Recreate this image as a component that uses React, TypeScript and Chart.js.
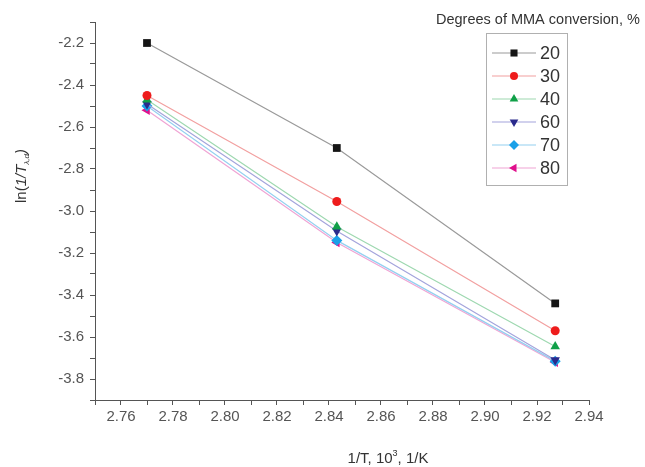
import React, { useEffect, useRef } from "react";
import { Chart, registerables } from "chart.js";

Chart.register(...registerables);

const xValues = [2.77, 2.843, 2.927];
const seriesLabels = ["20", "30", "40", "60", "70", "80"];
const series20 = [-2.2, -2.7, -3.44];
const series30 = [-2.45, -2.955, -3.57];
const series40 = [-2.47, -3.075, -3.645];
const series60 = [-2.49, -3.095, -3.71];
const series70 = [-2.5, -3.14, -3.715];
const series80 = [-2.52, -3.15, -3.72];
const allSeries = [series20, series30, series40, series60, series70, series80];

const markerColors = ["#151515", "#ee1c1c", "#10a048", "#2a2a8c", "#1aa0e8", "#e0108c"];
const lineColors = ["#9a9a9a", "#f2a0a0", "#9ed8b0", "#a4a4dc", "#94d0f0", "#f0a4d4"];
const pointStyles = ["rect", "circle", "triangle", "triangle", "rectRot", "triangle"];
const pointRotations = [0, 0, 0, 180, 0, -90];
const pointRadii = [5.5, 4.5, 5.5, 5.5, 5.5, 5.5];

const FONT = "'Liberation Sans', Arial, sans-serif";

function drawMarker(ctx: CanvasRenderingContext2D, style: string, rot: number, r: number, x: number, y: number, color: string) {
  ctx.save();
  ctx.translate(x, y);
  ctx.rotate((rot * Math.PI) / 180);
  ctx.fillStyle = color;
  ctx.beginPath();
  if (style === "rect") {
    const s = Math.SQRT1_2 * r;
    ctx.rect(-s, -s, 2 * s, 2 * s);
  } else if (style === "circle") {
    ctx.arc(0, 0, r, 0, Math.PI * 2);
  } else if (style === "rectRot") {
    ctx.moveTo(0, -r);
    ctx.lineTo(r, 0);
    ctx.lineTo(0, r);
    ctx.lineTo(-r, 0);
    ctx.closePath();
  } else {
    const a = r;
    ctx.moveTo(0, -a);
    ctx.lineTo(a * 0.866, a * 0.5);
    ctx.lineTo(-a * 0.866, a * 0.5);
    ctx.closePath();
  }
  ctx.fill();
  ctx.restore();
}

const decorPlugin = {
  id: "decor",
  afterDraw(chart: any) {
    const ctx: CanvasRenderingContext2D = chart.ctx;
    ctx.save();
    ctx.fillStyle = "#333";
    ctx.textBaseline = "alphabetic";

    // Y axis title (rotated)
    ctx.save();
    ctx.translate(26, 176);
    ctx.rotate(-Math.PI / 2);
    const segs = [
      { t: "ln(", f: `15px ${FONT}`, dy: 0 },
      { t: "1/T", f: `italic 15px ${FONT}`, dy: 0 },
      { t: "λ,d", f: `italic 8px ${FONT}`, dy: 3 },
      { t: ")", f: `italic 15px ${FONT}`, dy: 0 },
    ];
    let total = 0;
    for (const s of segs) {
      ctx.font = s.f;
      total += ctx.measureText(s.t).width;
    }
    let cx = -total / 2;
    for (const s of segs) {
      ctx.font = s.f;
      ctx.textAlign = "left";
      ctx.fillText(s.t, cx, s.dy);
      cx += ctx.measureText(s.t).width;
    }
    ctx.restore();

    // X axis title
    const xs = [
      { t: "1/T, 10", f: `15px ${FONT}`, dy: 0 },
      { t: "3", f: `9px ${FONT}`, dy: -7 },
      { t: ", 1/K", f: `15px ${FONT}`, dy: 0 },
    ];
    let tw = 0;
    for (const s of xs) {
      ctx.font = s.f;
      tw += ctx.measureText(s.t).width;
    }
    let sx = 388 - tw / 2;
    for (const s of xs) {
      ctx.font = s.f;
      ctx.textAlign = "left";
      ctx.fillText(s.t, sx, 463 + s.dy);
      sx += ctx.measureText(s.t).width;
    }

    // Legend title
    ctx.font = `14.5px ${FONT}`;
    ctx.textAlign = "left";
    ctx.fillText("Degrees of MMA conversion, %", 436, 24);

    // Legend box
    ctx.strokeStyle = "#b0b0b0";
    ctx.lineWidth = 1;
    ctx.strokeRect(486.5, 33.5, 81, 152);
    const ds = chart.data.datasets;
    for (let i = 0; i < ds.length; i++) {
      const y = 53 + i * 23;
      ctx.strokeStyle = lineColors[i];
      ctx.lineWidth = 1.2;
      ctx.beginPath();
      ctx.moveTo(492, y);
      ctx.lineTo(536, y);
      ctx.stroke();
      drawMarker(ctx, pointStyles[i], pointRotations[i], pointRadii[i] - 0.5, 514, y, markerColors[i]);
      ctx.fillStyle = "#333";
      ctx.font = `18px ${FONT}`;
      ctx.textBaseline = "middle";
      ctx.fillText(ds[i].label, 540, y + 1);
      ctx.textBaseline = "alphabetic";
    }
    ctx.restore();
  },
};

export default function App() {
  const canvasRef = useRef<HTMLCanvasElement | null>(null);

  useEffect(() => {
    if (!canvasRef.current) return;
    const datasets = allSeries.map((vals, i) => ({
      label: seriesLabels[i],
      data: vals.map((v, j) => ({ x: xValues[j], y: v })),
      borderColor: lineColors[i],
      backgroundColor: markerColors[i],
      pointBackgroundColor: markerColors[i],
      pointBorderColor: markerColors[i],
      pointBorderWidth: 0,
      pointStyle: pointStyles[i],
      rotation: pointRotations[i],
      pointRadius: pointRadii[i],
      borderWidth: 1.2,
      showLine: true,
      fill: false,
      tension: 0,
    }));

    const chart = new Chart(canvasRef.current, {
      type: "scatter",
      data: { datasets: datasets as any },
      plugins: [decorPlugin],
      options: {
        animation: false,
        responsive: false,
        layout: { padding: { top: 22, right: 56, left: 0, bottom: 0 } },
        plugins: { legend: { display: false }, tooltip: { enabled: false }, title: { display: false } },
        scales: {
          x: {
            type: "linear",
            min: 2.75,
            max: 2.94,
            afterFit: (s: any) => {
              s.height = 67;
            },
            ticks: {
              stepSize: 0.01,
              autoSkip: false,
              maxRotation: 0,
              color: "#555",
              font: { family: FONT, size: 15 },
              padding: 3,
              callback: (v: any) => {
                const n = Math.round(Number(v) * 100);
                return n % 2 === 0 ? (n / 100).toFixed(2) : "";
              },
            },
            grid: {
              drawOnChartArea: false,
              drawTicks: true,
              tickLength: 5,
              color: "#555",
            },
            border: { display: true, color: "#555", width: 1 },
          },
          y: {
            type: "linear",
            min: -3.9,
            max: -2.1,
            afterFit: (s: any) => {
              s.width = 95;
            },
            ticks: {
              stepSize: 0.1,
              autoSkip: false,
              color: "#555",
              font: { family: FONT, size: 15 },
              padding: 6,
              callback: (v: any) => {
                const n = Math.round(Number(v) * 10);
                return n % 2 === 0 ? (n / 10).toFixed(1) : "";
              },
            },
            grid: {
              drawOnChartArea: false,
              drawTicks: true,
              tickLength: 5,
              color: "#555",
            },
            border: { display: true, color: "#555", width: 1 },
          },
        },
      } as any,
    });
    return () => chart.destroy();
  }, []);

  return (
    <div style={{ position: "fixed", left: 0, top: 0, width: 645, height: 467, background: "#fff" }}>
      <canvas ref={canvasRef} width={645} height={467} style={{ display: "block" }} />
    </div>
  );
}
